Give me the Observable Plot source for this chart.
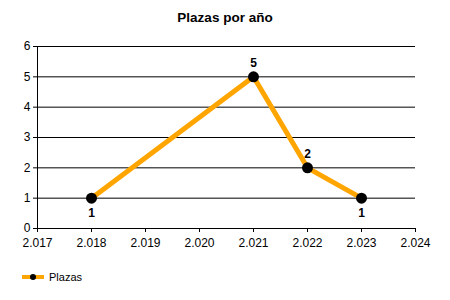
<!DOCTYPE html>
<html>
<head>
<meta charset="utf-8">
<script src="https://cdn.jsdelivr.net/npm/d3@7"></script>
<script src="https://cdn.jsdelivr.net/npm/@observablehq/plot@0.6"></script>
<style>
  body { margin: 0; background: #fff; font-family: "Liberation Sans", Arial, sans-serif; }
  #wrap { width: 450px; height: 300px; position: relative; overflow: hidden; }
  #title { height: 32px; line-height: 36px; text-align: center; font-weight: bold; font-size: 13.5px; color: #000; }
  #legend { position: absolute; left: 0; top: 262px; width: 450px; height: 38px; }
</style>
</head>
<body>
<div id="wrap">
  <div id="title">Plazas por año</div>
  <div id="chart"></div>
  <div id="legend"></div>
</div>
<script>
const years = [2018, 2021, 2022, 2023];
const plazas = [1, 5, 2, 1];
const xTicks = [2017, 2018, 2019, 2020, 2021, 2022, 2023, 2024];
const yTicks = [0, 1, 2, 3, 4, 5, 6];
const seriesName = "Plazas";

const esFmt = d3.formatLocale({decimal: ",", thousands: ".", grouping: [3], currency: ["", "€"]}).format(",");

const data = years.map((y, i) => {
  const prev = i > 0 ? plazas[i - 1] : Infinity;
  const next = i < plazas.length - 1 ? plazas[i + 1] : Infinity;
  const below = plazas[i] < prev && plazas[i] < next;
  return {year: y, value: plazas[i], below};
});

const chart = Plot.plot({
  width: 450,
  height: 230,
  marginTop: 14,
  marginBottom: 34,
  marginLeft: 37,
  marginRight: 35,
  style: {fontFamily: "Liberation Sans, Arial, sans-serif", fontSize: "12px", color: "#000", background: "#fff"},
  x: {domain: [2017, 2024], ticks: xTicks, tickFormat: esFmt, tickSize: 4, tickPadding: 6, label: null},
  y: {domain: [0, 6], ticks: yTicks, tickFormat: d3.format("d"), tickSize: 4, tickPadding: 3, label: null},
  marks: [
    Plot.ruleY(yTicks, {stroke: "#000", strokeWidth: 1}),
    Plot.ruleX([2017], {stroke: "#000", strokeWidth: 1}),
    Plot.line(data, {x: "year", y: "value", stroke: "#FFA500", strokeWidth: 5, strokeLinejoin: "round"}),
    Plot.dot(data, {x: "year", y: "value", r: 5.5, fill: "#000", stroke: "none"}),
    Plot.text(data.filter(d => !d.below), {x: "year", y: "value", text: "value", dy: -14, fontWeight: "bold", fontSize: 12, fill: "#000"}),
    Plot.text(data.filter(d => d.below), {x: "year", y: "value", text: "value", dy: 15, fontWeight: "bold", fontSize: 12, fill: "#000"})
  ]
});
document.getElementById("chart").appendChild(chart);

document.getElementById("legend").innerHTML =
  `<svg width="450" height="38" style="display:block">
     <line x1="22" x2="44" y1="15" y2="15" stroke="#FFA500" stroke-width="4"/>
     <circle cx="33" cy="15" r="3" fill="#000"/>
     <text x="49" y="19" font-size="11" font-family="Liberation Sans, Arial, sans-serif" fill="#000">${seriesName}</text>
   </svg>`;
</script>
</body>
</html>
